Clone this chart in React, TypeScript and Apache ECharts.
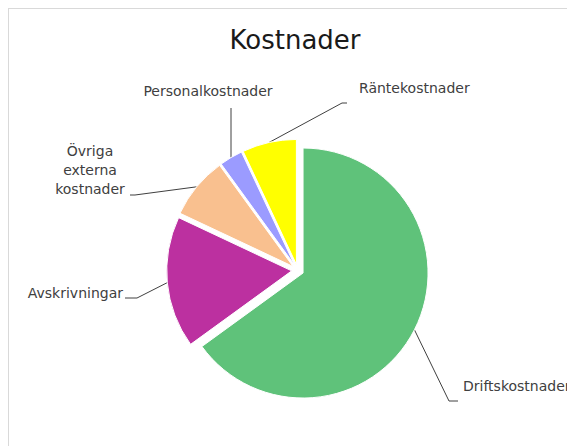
import React, { useEffect, useRef } from 'react';
import * as echarts from 'echarts';

// ---- data ----
const categories = ['Driftskostnader', 'Avskrivningar', 'Övriga externa kostnader', 'Personalkostnader', 'Räntekostnader'];
const values = [65, 17, 8, 3, 7];
const chartTitle = 'Kostnader';

// ---- styles / layout ----
const colors = ['#5FC27A', '#BC30A0', '#F9C08F', '#9B9BFF', '#FFFF00'];
const FONT = "'DejaVu Sans', sans-serif";
const CENTER = [288.7, 261.3];
const RADIUS = 125;
const EXPLODE = 6;
// label anchor positions and leader-line bend/end points (chart px)
const labelLayouts: any[] = [
  { x: 454, y: 376.5, align: 'left', bend: [440, 392], end: [449, 392] },
  { x: 114, y: 283.7, align: 'right', bend: [128, 289], end: [116, 289] },
  { x: 81, y: 161, align: 'center', bend: [126, 186], end: [121, 186] },
  { x: 199, y: 81.5, align: 'center', vertical: 99 },
  { x: 350, y: 79.3, align: 'left', bend: [333, 94], end: [338, 94] },
];

export default function App() {
  const ref = useRef<HTMLDivElement>(null);
  useEffect(() => {
    if (!ref.current) return;
    const chart = echarts.init(ref.current, undefined, { renderer: 'svg' });
    const total = values.reduce((a, b) => a + b, 0);
    let cum = 0;
    const mids = values.map((v) => {
      const m = ((cum + v / 2) / total) * 2 * Math.PI;
      cum += v;
      return m;
    });
    const series = categories.map((_, i) => {
      const sx = Math.sin(mids[i]);
      const sy = -Math.cos(mids[i]);
      const c = [CENTER[0] + EXPLODE * sx, CENTER[1] + EXPLODE * sy];
      const start = [c[0] + RADIUS * sx, c[1] + RADIUS * sy];
      const L = labelLayouts[i];
      const pts = L.vertical != null
        ? [start, [start[0], L.vertical], [start[0], L.vertical]]
        : [start, L.bend, L.end];
      return {
        type: 'pie',
        center: c,
        radius: RADIUS,
        startAngle: 90,
        clockwise: true,
        avoidLabelOverlap: false,
        silent: true,
        animation: false,
        emphasis: { disabled: true },
        label: {
          show: true,
          fontFamily: FONT,
          fontSize: 14,
          color: '#404040',
          lineHeight: 19,
          align: L.align,
          formatter: (p: any) => String(p.name).split(' ').join('\n'),
        },
        labelLine: { show: true, smooth: false, lineStyle: { color: '#404040', width: 1 } },
        labelLayout: (params: any) =>
          params.dataIndex === i
            ? { x: L.x, y: L.y, align: L.align, verticalAlign: 'middle', labelLinePoints: pts }
            : {},
        data: categories.map((name, j) =>
          j === i
            ? {
                name,
                value: values[j],
                itemStyle: { color: colors[j], borderColor: '#ffffff', borderWidth: 1 },
                label: { show: true },
                labelLine: { show: true },
              }
            : {
                name,
                value: values[j],
                itemStyle: { color: 'rgba(0,0,0,0)', borderWidth: 0 },
                label: { show: false },
                labelLine: { show: false },
              }
        ),
      };
    });
    chart.setOption({
      animation: false,
      textStyle: { fontFamily: FONT },
      graphic: [
        {
          type: 'text',
          x: 286,
          y: 31.3,
          silent: true,
          style: {
            text: chartTitle,
            align: 'center',
            verticalAlign: 'middle',
            fontFamily: FONT,
            fontSize: 26,
            fill: '#1a1a1a',
          },
        },
      ],
      series,
    });
    return () => chart.dispose();
  }, []);
  return (
    <div
      style={{
        width: 567,
        height: 438,
        boxSizing: 'border-box',
        borderTop: '1px solid #d9d9d9',
        borderLeft: '1px solid #d9d9d9',
        overflow: 'hidden',
      }}
    >
      <div ref={ref} style={{ width: 566, height: 437 }} />
    </div>
  );
}
